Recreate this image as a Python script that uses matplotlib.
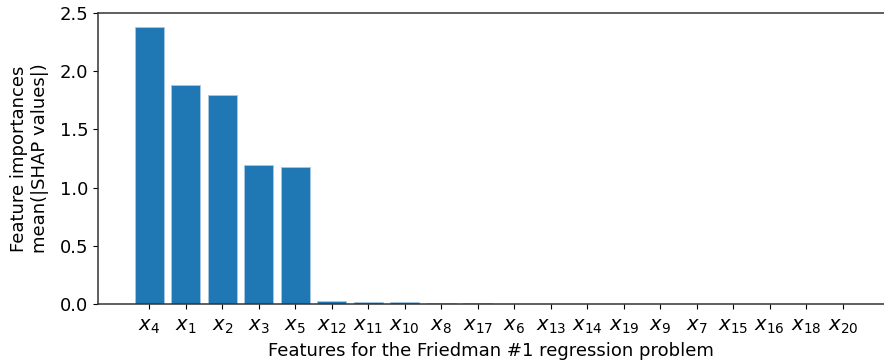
import numpy as np
import matplotlib.pyplot as plt

# feature order and mean |SHAP| values
features = [4, 1, 2, 3, 5, 12, 11, 10, 8, 17, 6, 13, 14, 19, 9, 7, 15, 16, 18, 20]
importances = [2.38, 1.88, 1.795, 1.197, 1.174, 0.025, 0.022, 0.015, 0.008, 0.007,
               0.002, 0.002, 0.002, 0.002, 0.002, 0.002, 0.002, 0.002, 0.002, 0.002]

plt.rcParams['font.size'] = 13
plt.rcParams['axes.linewidth'] = 1.1
plt.rcParams['axes.edgecolor'] = '#333333'

fig = plt.figure(figsize=(8.84, 3.62), dpi=100)
ax = fig.add_axes([0.111, 0.16, 0.889, 0.804])

pos = np.arange(len(features))
ax.bar(pos, importances, width=0.8, color='#1f77b4', edgecolor='#a9c8e3', linewidth=0.6)
ax.set_xticks(pos)
ax.set_xticklabels([r'$x_{%d}$' % f for f in features], fontsize=14)
ax.tick_params(axis='x', pad=6)
ax.set_xlim(-1.4, 20.13)
ax.set_ylim(0, 2.5)
ax.spines['right'].set_visible(False)
ax.set_xlabel('Features for the Friedman #1 regression problem', labelpad=4)
ax.set_ylabel('Feature importances\nmean(|SHAP values|)', labelpad=8)

fig.savefig('out.png', dpi=100)
